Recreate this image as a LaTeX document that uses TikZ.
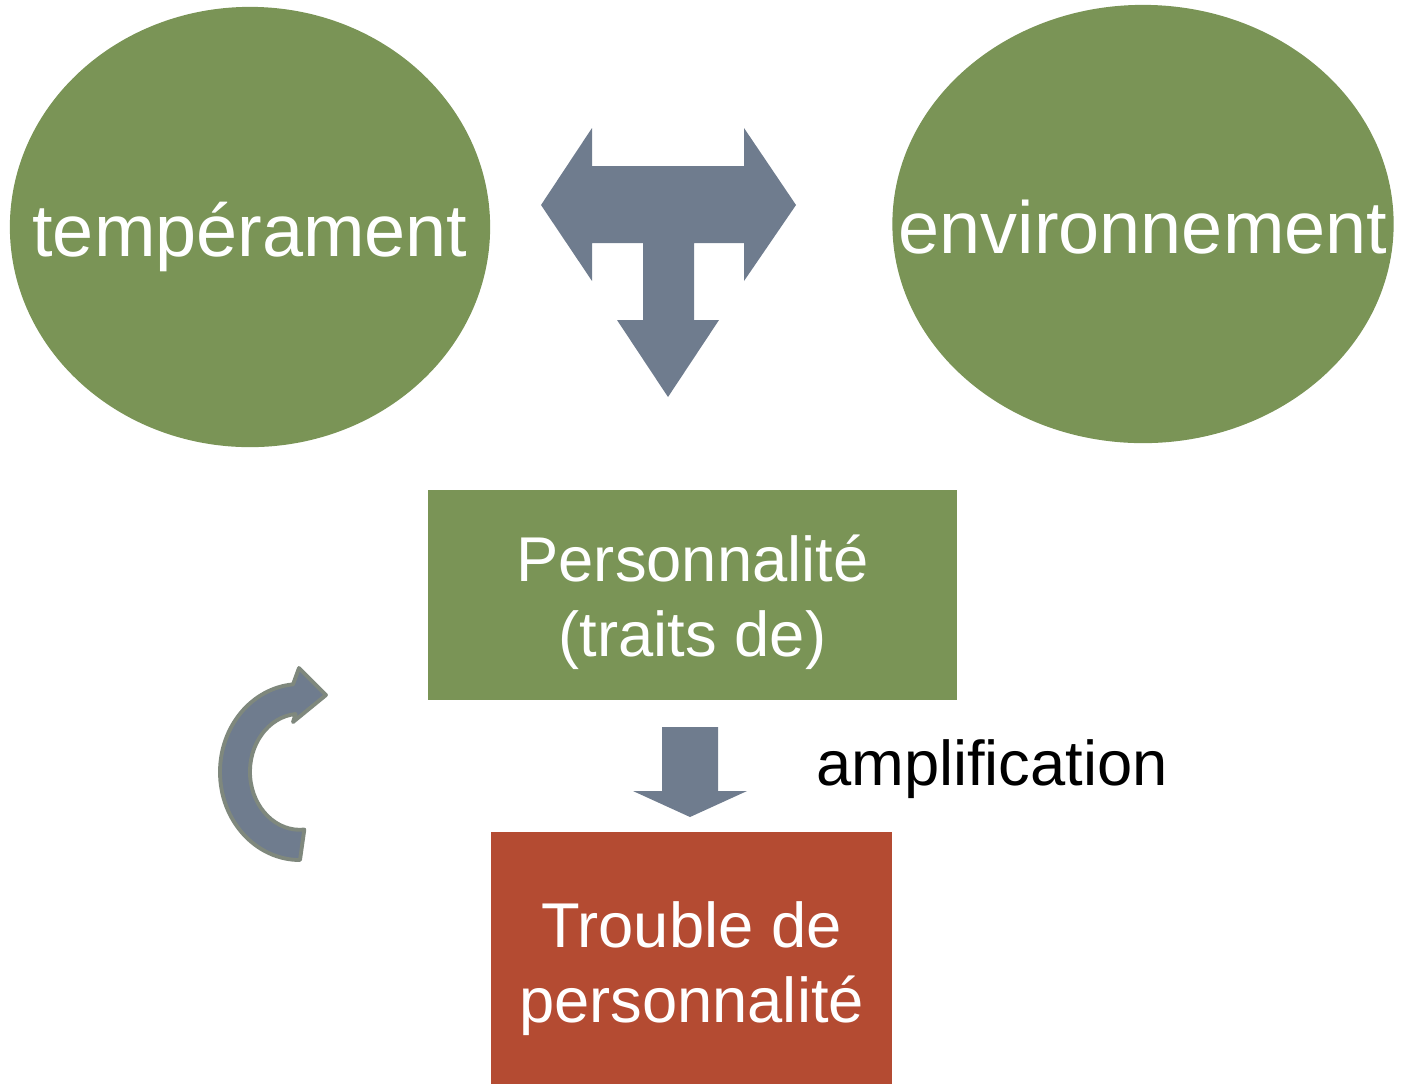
\documentclass[tikz,border=0pt]{standalone}
\usepackage{fontspec}
\setmainfont{Liberation Sans}
\usetikzlibrary{shapes.geometric}
\definecolor{olivefill}{HTML}{7A9456}
\definecolor{rustfill}{HTML}{B44B32}
\definecolor{slatefill}{HTML}{6F7C8E}
\definecolor{slateedge}{HTML}{7F887D}
\begin{document}
\begin{tikzpicture}[x=0.01cm,y=-0.01cm,
  bubble/.style={ellipse,fill=olivefill,text=white,inner sep=0pt,font=\fontsize{21}{21}\selectfont,text height=0.6cm,text depth=0.02cm},
  block/.style={rectangle,inner sep=0pt},
  blocktext/.style={inner sep=0pt,text=white,align=center,font=\fontsize{18}{21.3}\selectfont},
  blockarrow/.style={fill=slatefill}]
\useasboundingbox (0,0) rectangle (1401,1084);
\node[bubble,minimum width=4.80cm,minimum height=4.40cm] (tempe) at (250,227) {\makebox[0pt][c]{tempérament}};
\node[bubble,minimum width=5.01cm,minimum height=4.38cm] (envir) at (1143,224) {\makebox[0pt][c]{environnement}};
\node[block,fill=olivefill,minimum width=5.29cm,minimum height=2.10cm,
  label={[name=perslbl,blocktext,yshift=-0.07cm]center:Personnalité\\(traits de)}] (pers) at (692.5,595) {};
\node[block,fill=rustfill,minimum width=4.01cm,minimum height=2.52cm,
  label={[name=troublelbl,blocktext,yshift=-0.11cm]center:Trouble de\\personnalité}] (trouble) at (691.5,958) {};
\node[anchor=base,font=\fontsize{18}{18.8}\selectfont,inner sep=0pt] (ampl) at (992,785) {amplification};
% T-shaped arrow between the two influences
\fill[blockarrow] (541,205) -- (592,128) -- (592,166) -- (744,166) -- (744,128) -- (796,205) -- (744,281) -- (744,243) -- (694,243) -- (694,320) -- (719,320) -- (668,397) -- (617,320) -- (643,320) -- (643,243) -- (592,243) -- (592,281) -- cycle;
% down arrow
\fill[blockarrow] (662,727) -- (718,727) -- (718,791) -- (747,791) -- (690,817) -- (633,791) -- (662,791) -- cycle;
% curved arrow
\filldraw[blockarrow,draw=slateedge,line width=1.1pt,line join=round] (300,860) arc[start angle=90,end angle=265,x radius=80,y radius=88] -- (299,668) -- (326,695) -- (293,722) -- (295.6,714) arc[start angle=265,end angle=85,x radius=50,y radius=58] -- cycle;
\end{tikzpicture}
\end{document}
